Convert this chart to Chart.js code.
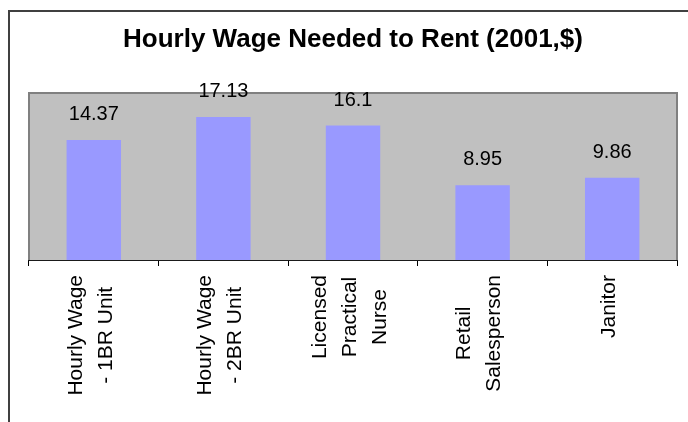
<!DOCTYPE html>
<html>
<head>
<meta charset="utf-8">
<script src="https://cdn.jsdelivr.net/npm/chart.js@4"></script>
<style>
  html, body { margin: 0; padding: 0; background: #fff; overflow: hidden; }
  #wrap { position: relative; width: 688px; height: 422px; overflow: hidden; }
  #frame { position: absolute; left: 8px; top: 10px; width: 720px; height: 500px;
           border: 2px solid #404040; box-sizing: border-box; }
  #c { position: absolute; left: 0; top: 0; }
</style>
</head>
<body>
<div id="wrap">
  <div id="frame"></div>
  <canvas id="c" width="688" height="422"></canvas>
</div>
<script>
// ---- data ----
const categories = [
  ["Hourly Wage", "- 1BR Unit"],
  ["Hourly Wage", "- 2BR Unit"],
  ["Licensed", "Practical", "Nurse"],
  ["Retail", "Salesperson"],
  ["Janitor"]
];
const wageValues = [14.37, 17.13, 16.1, 8.95, 9.86];
const chartTitle = "Hourly Wage Needed to Rent (2001,$)";
const yMin = 0;
const yMax = 20;

const FONT = "'Liberation Sans', Arial, sans-serif";

// gray plot area with border
const plotArea = {
  id: 'plotArea',
  beforeDatasetsDraw(chart) {
    const {ctx, chartArea: a} = chart;
    ctx.save();
    ctx.fillStyle = '#C0C0C0';
    ctx.fillRect(a.left, a.top, a.right - a.left, a.bottom - a.top);
    ctx.strokeStyle = '#808080';
    ctx.lineWidth = 2;
    ctx.beginPath();
    ctx.moveTo(a.left, a.bottom);
    ctx.lineTo(a.left, a.top);
    ctx.lineTo(a.right, a.top);
    ctx.lineTo(a.right, a.bottom);
    ctx.stroke();
    ctx.restore();
  }
};

// center the lines of each rotated tick label (Excel style)
const centerLabels = {
  id: 'centerLabels',
  beforeDraw(chart) {
    const sc = chart.scales.x;
    const items = sc.getLabelItems();
    const ctx = chart.ctx;
    items.forEach((it, i) => {
      if (it._centered) return;
      const lines = Array.isArray(it.label) ? it.label : [it.label];
      ctx.save();
      ctx.font = it.font.string;
      const maxW = Math.max(...lines.map(l => ctx.measureText(l).width));
      ctx.restore();
      const lh = it.font.lineHeight;
      const x = sc.getPixelForTick(i) - 3 - (lines.length - 1) * lh / 2;
      const y = sc.top + 15 + maxW / 2;
      it.options.translation = [x, y];
      it.options.textAlign = 'center';
      it.options.textBaseline = 'middle';
      it.textOffset = 0;
      it._centered = true;
    });
  }
};

// value labels above bars
const valueLabels = {
  id: 'valueLabels',
  afterDatasetsDraw(chart) {
    const {ctx} = chart;
    const meta = chart.getDatasetMeta(0);
    ctx.save();
    ctx.font = '20px ' + FONT;
    ctx.fillStyle = '#000';
    ctx.textAlign = 'center';
    ctx.textBaseline = 'alphabetic';
    meta.data.forEach((bar, i) => {
      ctx.fillText(String(wageValues[i]), bar.x, bar.y - 20);
    });
    ctx.restore();
  }
};

new Chart(document.getElementById('c'), {
  type: 'bar',
  data: {
    labels: categories,
    datasets: [{
      data: wageValues,
      backgroundColor: '#9999FF',
      borderWidth: 0,
      barPercentage: 0.42,
      categoryPercentage: 1.0
    }]
  },
  options: {
    responsive: false,
    animation: false,
    events: [],
    layout: { padding: { left: 29, right: 11, top: 0, bottom: 0 } },
    plugins: {
      legend: { display: false },
      tooltip: { enabled: false },
      title: {
        display: true,
        text: chartTitle,
        color: '#000',
        font: { family: FONT, size: 26, weight: 'bold', lineHeight: 1.2 },
        padding: { top: 24, bottom: 37.8 }
      }
    },
    scales: {
      y: { display: false, min: yMin, max: yMax },
      x: {
        afterFit(scale) { scale.height = 162; },
        grid: {
          display: true,
          drawOnChartArea: false,
          drawTicks: true,
          tickLength: 6,
          color: '#000',
          lineWidth: 1,
          offset: true
        },
        border: { display: true, color: '#1a1a1a', width: 2 },
        ticks: {
          autoSkip: false,
          minRotation: 90,
          maxRotation: 90,
          padding: 8,
          color: '#000',
          font: { family: FONT, size: 21, lineHeight: 1.43 }
        }
      }
    }
  },
  plugins: [plotArea, centerLabels, valueLabels]
});
</script>
</body>
</html>
